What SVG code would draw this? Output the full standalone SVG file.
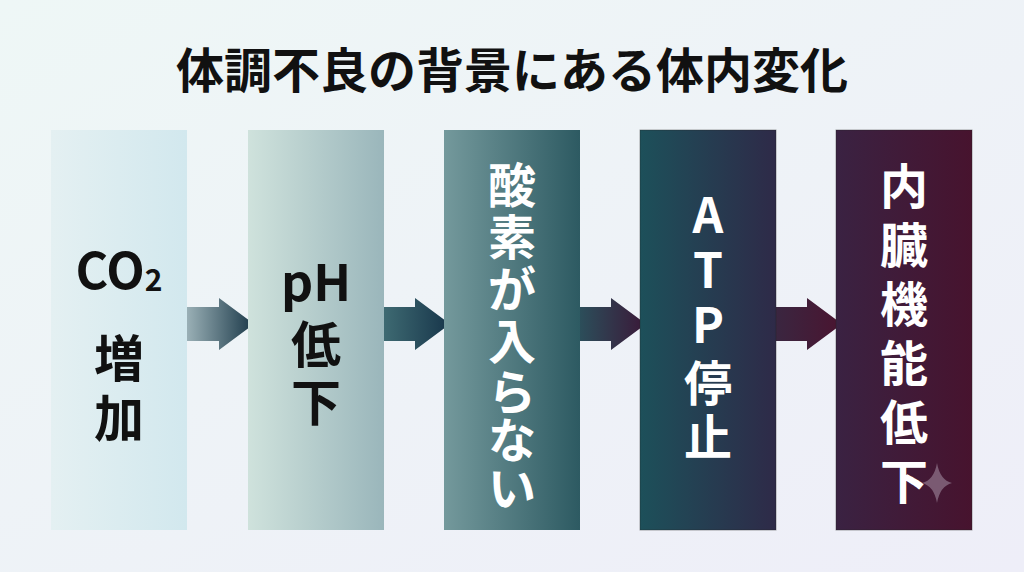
<svg xmlns="http://www.w3.org/2000/svg" width="1024" height="572" viewBox="0 0 1024 572">
<defs>
<linearGradient id="bg" x1="0" y1="0" x2="1" y2="1"><stop offset="0" stop-color="#eef7f6"/><stop offset="1" stop-color="#eeeef8"/></linearGradient>
<linearGradient id="g1" x1="0" x2="1"><stop offset="0" stop-color="#e4f0f2"/><stop offset="1" stop-color="#d2e8ee"/></linearGradient>
<linearGradient id="g2" x1="0" x2="1"><stop offset="0" stop-color="#cfe2dc"/><stop offset="1" stop-color="#9ab6bb"/></linearGradient>
<linearGradient id="g3" x1="0" x2="1"><stop offset="0" stop-color="#74999c"/><stop offset="1" stop-color="#2d5a62"/></linearGradient>
<linearGradient id="g4" x1="0" x2="1"><stop offset="0" stop-color="#1d505a"/><stop offset="1" stop-color="#2e2a48"/></linearGradient>
<linearGradient id="g5" x1="0" x2="1"><stop offset="0" stop-color="#3a2242"/><stop offset="1" stop-color="#47132e"/></linearGradient>
<linearGradient id="a1" x1="0" x2="1"><stop offset="0" stop-color="#9ab0b6"/><stop offset="1" stop-color="#1a3848"/></linearGradient>
<linearGradient id="a2" x1="0" x2="1"><stop offset="0" stop-color="#3e6a72"/><stop offset="1" stop-color="#17354a"/></linearGradient>
<linearGradient id="a3" x1="0" x2="1"><stop offset="0" stop-color="#2c4e5a"/><stop offset="1" stop-color="#3a1838"/></linearGradient>
<linearGradient id="a4" x1="0" x2="1"><stop offset="0" stop-color="#3a2640"/><stop offset="1" stop-color="#4a1430"/></linearGradient>
<style>
text{font-family:"Noto Sans CJK JP","Liberation Sans",sans-serif;font-weight:bold;text-anchor:middle}
.d{fill:#111;font-size:50px}.w{fill:#fff;font-size:48px}
</style>
</defs>
<rect width="1024" height="572" fill="url(#bg)"/>
<text x="512" y="88" style="font-size:48px;fill:#111">体調不良の背景にある体内変化</text>
<g id="connectors">
<path d="M187 307H219V298L254 324L219 350V341H187Z" fill="url(#a1)"/>
<path d="M384 307H415V298L450 324L415 350V341H384Z" fill="url(#a2)"/>
<path d="M580 307H611V298L646 324L611 350V341H580Z" fill="url(#a3)"/>
<path d="M776 307H807V298L842 324L807 350V341H776Z" fill="url(#a4)"/>
</g>
<g id="n1"><rect x="51" y="130" width="136" height="400" fill="url(#g1)"/>
<text x="119" y="289" class="d">CO<tspan font-size="30" dy="2">2</tspan></text>
<text x="119" y="377" class="d">増</text><text x="119" y="437" class="d">加</text></g>
<g id="n2"><rect x="248" y="130" width="136" height="400" fill="url(#g2)"/>
<text x="316" y="301" class="d">pH</text><text x="316" y="363" class="d">低</text><text x="316" y="421" class="d">下</text></g>
<g id="n3"><rect x="444" y="130" width="136" height="400" fill="url(#g3)"/>
<text x="512" y="203" class="w">酸</text><text x="512" y="255" class="w">素</text><text x="512" y="307" class="w">が</text><text x="512" y="359" class="w">入</text><text x="512" y="410" class="w">ら</text><text x="512" y="458" class="w">な</text><text x="512" y="506" class="w">い</text></g>
<g id="n4"><rect x="640" y="130" width="136" height="400" fill="url(#g4)" stroke="#222" stroke-opacity=".4"/>
<text x="708" y="233" class="w">A</text><text x="708" y="288" class="w">T</text><text x="708" y="343" class="w">P</text><text x="708" y="401" class="w">停</text><text x="708" y="455" class="w">止</text></g>
<g id="n5"><rect x="836" y="130" width="136" height="400" fill="url(#g5)" stroke="#222" stroke-opacity=".4"/>
<text x="904" y="204" class="w">内</text><text x="904" y="263" class="w">臓</text><text x="904" y="322" class="w">機</text><text x="904" y="381" class="w">能</text><text x="904" y="440" class="w">低</text><text x="904" y="499" class="w">下</text>
<path d="M937 463Q940 480 952 483Q940 486 937 503Q934 486 922 483Q934 480 937 463Z" fill="#7a5a72"/></g>
</svg>
